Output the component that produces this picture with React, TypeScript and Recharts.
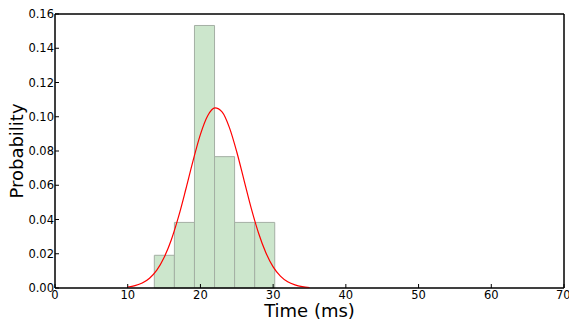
import { ComposedChart, Line, XAxis, YAxis, ReferenceArea } from "recharts";

// histogram bins (ms) and their probability densities
const binEdges = [13.66, 16.42, 19.18, 21.94, 24.70, 27.46, 30.22];
const binHeights = [0.0191, 0.0383, 0.1533, 0.0767, 0.0383, 0.0383];

// fitted curve
const curveX = [10, 11, 12, 13, 14, 15, 16, 17, 18, 19, 20, 21, 22, 23, 24, 25, 26, 27, 28, 29, 30, 31, 32, 33, 34, 35];
const curveY = [0.0006, 0.0014, 0.0029, 0.0057, 0.0104, 0.0178, 0.0282, 0.0418, 0.0578, 0.0745, 0.0897, 0.1006, 0.1052, 0.1027, 0.0935, 0.0794, 0.0629, 0.0464, 0.032, 0.0206, 0.0123, 0.0069, 0.0036, 0.0018, 0.0008, 0.0003];

const xTicks = [0, 10, 20, 30, 40, 50, 60, 70];
const yTicks = [0, 0.02, 0.04, 0.06, 0.08, 0.1, 0.12, 0.14, 0.16];

const curve = curveX.map((x, i) => ({ x, p: curveY[i], p2: curveY[i] }));

const font = "'DejaVu Sans', sans-serif";

export default function App() {
  return (
    <div style={{ position: "absolute", left: 0, top: 0, width: 569, height: 323, background: "#fff", fontFamily: font }}>
      <ComposedChart width={569} height={323} data={curve} margin={{ top: 13, right: 4, bottom: 0, left: 0 }}>
        <XAxis
          dataKey="x"
          type="number"
          domain={[0, 70]}
          ticks={xTicks}
          height={35}
          stroke="#000"
          tickSize={-4}
          tickMargin={7}
          tick={{ fill: "#000", fontSize: 11.5, fontFamily: font }}
          label={{ value: "Time (ms)", position: "insideBottom", offset: 6, fill: "#000", fontSize: 18, fontFamily: font }}
        />
        <XAxis xAxisId="top" dataKey="x" orientation="top" type="number" domain={[0, 70]} ticks={xTicks} height={1} stroke="#000" tickSize={-4} tick={false} />
        <YAxis
          type="number"
          domain={[0, 0.16]}
          ticks={yTicks}
          width={55}
          stroke="#000"
          tickSize={-4}
          tickMargin={5}
          tickFormatter={(v: number) => v.toFixed(2)}
          tick={{ fill: "#000", fontSize: 11.5, fontFamily: font }}
          label={{ value: "Probability", angle: -90, position: "insideLeft", offset: 17, fill: "#000", fontSize: 18, fontFamily: font, style: { textAnchor: "middle" } }}
        />
        <YAxis yAxisId="right" orientation="right" type="number" domain={[0, 0.16]} ticks={yTicks} width={1} stroke="#000" tickSize={-4} tick={false} />
        {binHeights.map((h, i) => (
          <ReferenceArea
            key={i}
            x1={binEdges[i]}
            x2={binEdges[i + 1]}
            y1={0}
            y2={h}
            fill="#cce6cc"
            fillOpacity={1}
            stroke="#a4afa4"
            strokeWidth={1}
          />
        ))}
        <ReferenceArea x1={0} x2={70} y1={0} y2={0.16} fill="none" stroke="#000" strokeWidth={1} />
        <Line type="monotone" dataKey="p" stroke="#ff0000" strokeWidth={1.2} dot={false} activeDot={false} isAnimationActive={false} />
        <Line xAxisId="top" yAxisId="right" dataKey="p2" stroke="none" dot={false} activeDot={false} legendType="none" isAnimationActive={false} />
      </ComposedChart>
    </div>
  );
}
